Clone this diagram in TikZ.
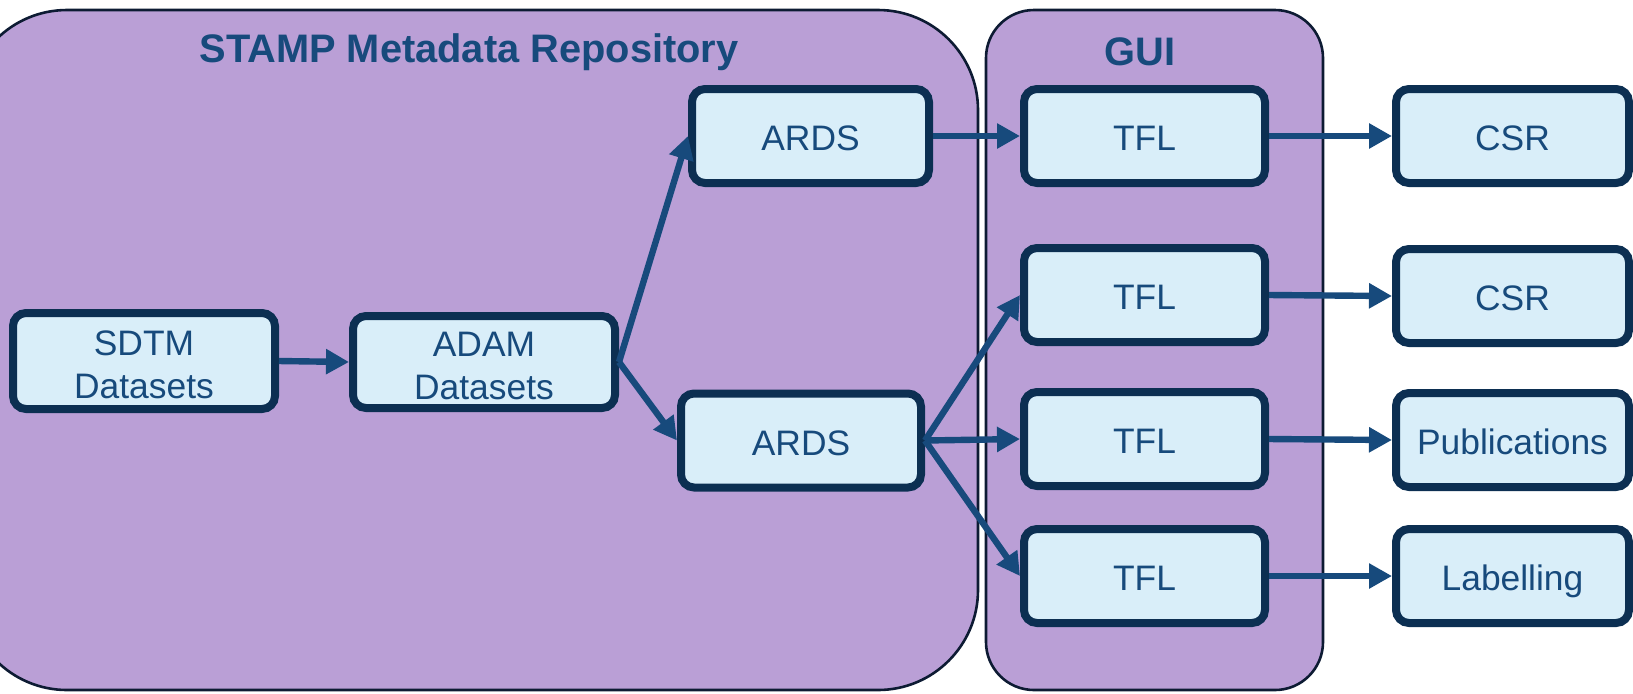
\documentclass[tikz,border=0pt]{standalone}
\usepackage{fontspec}
\setmainfont{Liberation Sans}
\usetikzlibrary{arrows.meta}
\definecolor{purp}{HTML}{BA9FD6}
\definecolor{lblue}{HTML}{D9EEF9}
\definecolor{navy}{HTML}{0C2F52}
\definecolor{tblue}{HTML}{174A7C}
\definecolor{edge}{HTML}{0D1B33}
\tikzset{
  container/.style={draw=edge, fill=purp, line width=1.3pt},
  box/.style={draw=navy, fill=lblue, line width=4pt, rounded corners=6.5pt,
    inner sep=0pt, text=tblue, align=center,
    font=\fontsize{17.7}{21.5}\selectfont},
  onebox/.style={box, text height=14.7pt, text depth=0pt,
    minimum height=47pt},
  title/.style={text=tblue, font=\fontsize{19.9}{23}\selectfont\bfseries},
  conn/.style={draw=tblue, line width=3.2pt,
    -{Triangle[length=11.5pt,width=12pt]}},
}
\newcommand{\firstlow}{\rule{0pt}{15.7pt}}
\begin{document}
\begin{tikzpicture}[x=0.5pt,y=-0.5pt]
\useasboundingbox (0,0) rectangle (1633,693);
% containers
\draw[container, rounded corners=50pt] (-33,10) rectangle (978,690);
\draw[container, rounded corners=24pt] (986,10) rectangle (1323,690);
\node[title] (t1) at (469,52) {STAMP Metadata Repository};
\node[title] (t2) at (1140,52) {GUI};
% boxes
\node[box, minimum width=131pt, minimum height=48pt] (sdtm) at (144,361) {\firstlow SDTM\\Datasets};
\node[box, minimum width=131pt, minimum height=46pt] (adam) at (484,362) {\firstlow ADAM\\Datasets};
\node[onebox, minimum width=118.5pt] (ards1) at (810.5,136) {ARDS};
\node[onebox, minimum width=120pt] (ards2) at (801,440.5) {ARDS};
\node[onebox, minimum width=120.5pt] (tfl1) at (1144.5,136) {TFL};
\node[onebox, minimum width=120.5pt] (tfl2) at (1144.5,295) {TFL};
\node[onebox, minimum width=120.5pt] (tfl3) at (1144.5,439) {TFL};
\node[onebox, minimum width=120.5pt] (tfl4) at (1144.5,576) {TFL};
\node[onebox, minimum width=116.5pt] (csr1) at (1512.5,136) {CSR};
\node[onebox, minimum width=116.5pt] (csr2) at (1512.5,296) {CSR};
\node[onebox, minimum width=116.5pt] (pub) at (1512.5,440) {Publications};
\node[onebox, minimum width=116.5pt] (lab) at (1512.5,576) {Labelling};
% connectors
\draw[conn] (sdtm.east) -- (adam.west);
\draw[conn] (adam.east) -- (ards1.west);
\draw[conn] (adam.east) -- (ards2.west);
\draw[conn] (ards1.east) -- (tfl1.west);
\draw[conn] (ards2.east) -- (tfl2.west);
\draw[conn] (ards2.east) -- (tfl3.west);
\draw[conn] (ards2.east) -- (tfl4.west);
\draw[conn] (tfl1.east) -- (csr1.west);
\draw[conn] (tfl2.east) -- (csr2.west);
\draw[conn] (tfl3.east) -- (pub.west);
\draw[conn] (tfl4.east) -- (lab.west);
\end{tikzpicture}
\end{document}
